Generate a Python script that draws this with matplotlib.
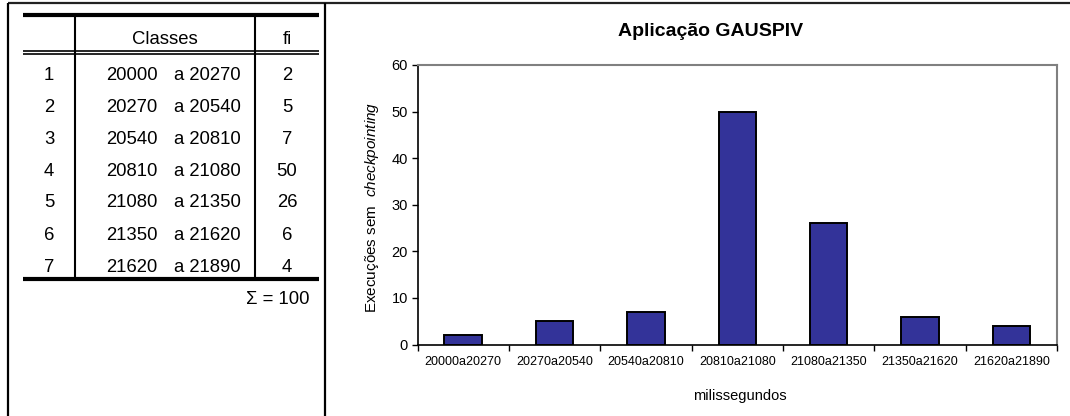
import matplotlib.pyplot as plt
from matplotlib.lines import Line2D
import numpy as np

plt.rcParams['font.family'] = ['Liberation Sans', 'DejaVu Sans']
plt.rcParams['mathtext.fontset'] = 'custom'
plt.rcParams['mathtext.rm'] = 'Liberation Sans'
plt.rcParams['mathtext.it'] = 'Liberation Sans:italic'

# data
row_ids = ['1', '2', '3', '4', '5', '6', '7']
class_lo = ['20000', '20270', '20540', '20810', '21080', '21350', '21620']
class_hi = ['20270', '20540', '20810', '21080', '21350', '21620', '21890']
fi = [2, 5, 7, 50, 26, 6, 4]
total_label = 'Σ = 100'
bar_labels = [lo + 'a' + hi for lo, hi in zip(class_lo, class_hi)]

W, H = 1070, 416
fig = plt.figure(figsize=(W / 100, H / 100), dpi=100)


# helpers working in pixel coords (origin top-left)
def fx(px):
    return px / W


def fy(py):
    return 1 - py / H


def hline(y, x0, x1, lw, color='black'):
    fig.add_artist(Line2D([fx(x0), fx(x1)], [fy(y), fy(y)], lw=lw, color=color,
                          transform=fig.transFigure, solid_capstyle='butt'))


def vline(x, y0, y1, lw, color='black'):
    fig.add_artist(Line2D([fx(x), fx(x)], [fy(y0), fy(y1)], lw=lw, color=color,
                          transform=fig.transFigure, solid_capstyle='butt'))


# outer frame
hline(3, 8, W, 1.6, '#222222')
vline(8, 3, H, 1.6)
vline(325, 3, H, 1.6)

# table
hline(15, 23, 319, 3)
hline(51, 23, 319, 1.2)
hline(54, 23, 319, 1.2)
hline(279, 23, 319, 3)
vline(75, 15, 279, 1.5)
vline(255, 15, 279, 1.5)

fs = 13.3
fig.text(fx(165), fy(39), 'Classes', ha='center', va='center', fontsize=fs)
fig.text(fx(287), fy(39), 'fi', ha='center', va='center', fontsize=fs)
for i in range(len(row_ids)):
    y = 75 + i * 32
    fig.text(fx(49), fy(y), row_ids[i], ha='center', va='center', fontsize=fs)
    fig.text(fx(106), fy(y), class_lo[i], ha='left', va='center', fontsize=fs)
    fig.text(fx(241), fy(y), 'a ' + class_hi[i], ha='right', va='center', fontsize=fs)
    fig.text(fx(287), fy(y), str(fi[i]), ha='center', va='center', fontsize=fs)
fig.text(fx(309), fy(299), total_label, ha='right', va='center', fontsize=fs)

# bar chart
ax = fig.add_axes([fx(417.5), fy(344.5), fx(1057) - fx(417.5), fy(65) - fy(344.5)])
x = np.arange(len(fi))
ax.bar(x, fi, width=0.41, color='#333399', edgecolor='black', linewidth=1.4)
ax.set_xlim(-0.5, len(fi) - 0.5)
ax.set_ylim(0, 60)
ax.set_yticks(range(0, 61, 10))
ax.set_xticks(np.arange(-0.5, len(fi), 1.0))
ax.set_xticklabels([])
ax.set_xticks(x, minor=True)
ax.set_xticklabels(bar_labels, minor=True, fontsize=9)
ax.tick_params(axis='x', which='minor', length=0, pad=8)
ax.tick_params(axis='x', which='major', length=4, width=1, direction='out')
ax.tick_params(axis='y', length=4, width=1, labelsize=10.5, pad=3)
for s in ['top', 'right']:
    ax.spines[s].set_color('#808080')
    ax.spines[s].set_linewidth(1.5)
for s in ['left', 'bottom']:
    ax.spines[s].set_color('black')
    ax.spines[s].set_linewidth(1.2)

fig.text(fx(711), fy(32), 'Aplicação GAUSPIV', ha='center', va='center',
         fontsize=14, fontweight='bold')
fig.text(fx(372), fy(207), r'Execuções sem $\ \mathit{checkpointing}$', rotation=90,
         ha='center', va='center', fontsize=11)
fig.text(fx(740), fy(396), 'milissegundos', ha='center', va='center', fontsize=10.5)

fig.savefig('out.png', dpi=100)
